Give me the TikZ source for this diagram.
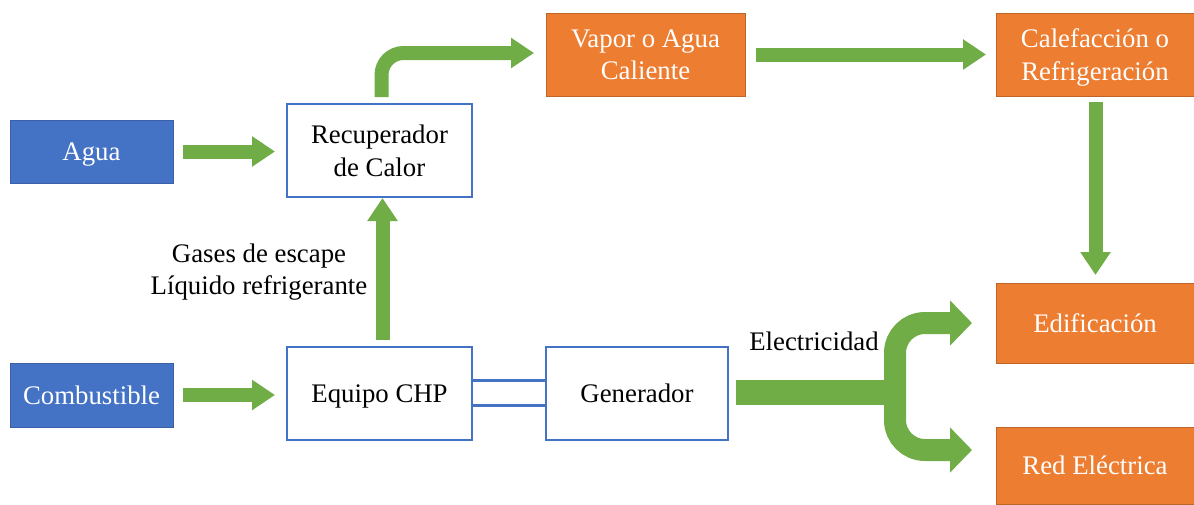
\documentclass[tikz,border=0pt]{standalone}
\usepackage{fontspec}
\setmainfont{Liberation Serif}
\usetikzlibrary{arrows.meta,calc}
\definecolor{oblue}{HTML}{4472C4}
\definecolor{oorange}{HTML}{ED7D31}
\definecolor{ogreen}{HTML}{70AD47}
\tikzset{
  base/.style={rectangle, inner sep=0pt, outer sep=0pt, align=center, text depth=0pt, font=\fontsize{26.8}{32.5}\selectfont},
  bluebox/.style={base, fill=oblue, draw=oblue!85!black, line width=0.6pt, text=white},
  orangebox/.style={base, fill=oorange, draw=oorange!80!black, line width=0.6pt, text=white},
  whitebox/.style={base, fill=white, draw=oblue, line width=2.5pt, text=black},
  garrow/.style={draw=ogreen, line width=14pt, -{Triangle[length=23pt, width=29pt]}},
  gbig/.style={draw=ogreen, line width=22pt, -{Triangle[length=22pt, width=44pt]}},
  lbl/.style={font=\fontsize{26.8}{32.5}\selectfont, align=center, inner sep=0pt},
}
\begin{document}
\begin{tikzpicture}[x=1pt, y=-1pt]
\useasboundingbox (0,0) rectangle (1194,504);
% nodes
\node[bluebox, minimum width=163pt, minimum height=63pt] (agua) at (91.5,151.5) {Agua};
\node[bluebox, minimum width=163pt, minimum height=64pt] (comb) at (91.5,395) {Combustible};
\node[whitebox, minimum width=185pt, minimum height=93pt] (rec) at (379.5,150.5) {Recuperador\\de Calor};
\node[whitebox, minimum width=185pt, minimum height=93pt] (chp) at (379.5,393.5) {Equipo CHP};
\node[whitebox, minimum width=182pt, minimum height=93pt] (gen) at (637,393.5) {Generador};
\node[orangebox, minimum width=199pt, minimum height=83pt] (vap) at (645.5,54.5) {Vapor o Agua\\Caliente};
\node[orangebox, minimum width=198pt, minimum height=83pt] (cal) at (1095,54.5) {Calefacción o\\Refrigeración};
\node[orangebox, minimum width=198pt, minimum height=80pt] (edif) at (1095,323) {Edificación};
\node[orangebox, minimum width=198pt, minimum height=77pt] (red) at (1095,465.5) {Red Eléctrica};
\node[lbl] (gases) at (259,272) {Gases de escape\\Líquido refrigerante};
\node[lbl, anchor=base] (elec) at (814,350) {Electricidad};
% double link
\draw[oblue, line width=2.5pt] ($(chp.east)+(0,-13)$) -- ($(gen.west)+(0,-13)$);
\draw[oblue, line width=2.5pt] ($(chp.east)+(0,12)$) -- ($(gen.west)+(0,12)$);
% green arrows
\draw[garrow, shorten <=10pt, shorten >=12pt] (agua.east) -- (agua.east -| rec.west);
\draw[garrow, shorten <=10pt, shorten >=12pt] (comb.east) -- (comb.east -| chp.west);
\draw[garrow, shorten <=7pt, shorten >=1pt] ([xshift=3pt]chp.north) -- ([xshift=3pt]rec.south);
\draw[garrow, shorten >=12pt, rounded corners=22pt] ([xshift=2pt,yshift=7pt]rec.north) -- ([xshift=2pt]rec.north |- 0,53) -- (vap.west |- 0,53);
\draw[garrow, shorten <=11pt, shorten >=10pt] (vap.east) -- (vap.east -| cal.west);
\draw[garrow, shorten <=6pt, shorten >=8pt] ([xshift=0.5pt]cal.south) -- ([xshift=0.5pt]edif.north);
% electricity split
\coordinate (split) at (895,392.5);
\draw[ogreen, line width=25pt] ([xshift=8pt]gen.east |- split) -- ([xshift=11pt]split);
\draw[gbig, rounded corners=30pt, shorten >=24pt] (split) |- (edif.west);
\draw[gbig, rounded corners=30pt, shorten >=24pt] (split) |- (red.west |- 0,450);
\end{tikzpicture}
\end{document}
